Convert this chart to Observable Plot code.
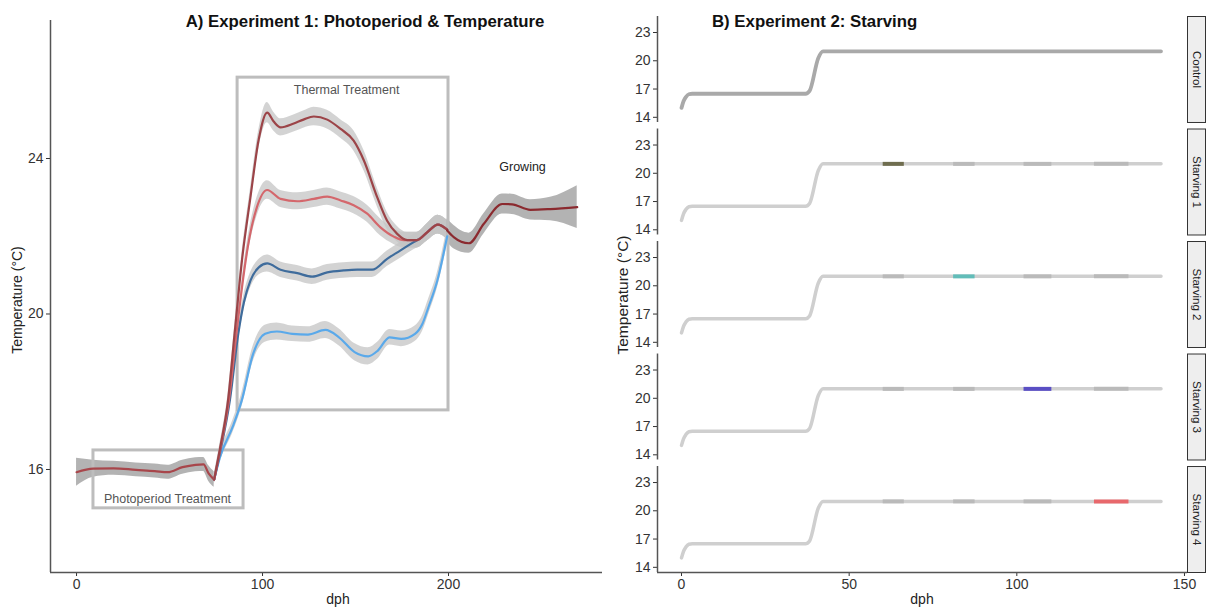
<!DOCTYPE html>
<html>
<head>
<meta charset="utf-8">
<script src="https://cdn.jsdelivr.net/npm/d3@7"></script>
<script src="https://cdn.jsdelivr.net/npm/@observablehq/plot@0.6"></script>
<style>
  body { margin: 0; background: #fff; }
  #wrap { position: relative; width: 1208px; height: 608px; font-family: "Liberation Sans", Arial, sans-serif; color: #222; overflow: hidden; }
  .abs { position: absolute; white-space: nowrap; }
  .title { font-weight: bold; font-size: 16.8px; color: #111; }
  .axlab { font-size: 14px; color: #222; }
</style>
</head>
<body>
<div id="wrap">
  <div id="left" class="abs" style="left:0;top:0"></div>
  <div id="right" class="abs" style="left:600px;top:0"></div>
  <div class="abs title" style="left:365px;top:22px;transform:translate(-50%,-50%)">A) Experiment 1: Photoperiod &amp; Temperature</div>
  <div class="abs title" style="left:712px;top:22px;transform:translate(0,-50%)">B) Experiment 2: Starving</div>
  <div class="abs axlab" style="left:17px;top:300px;transform:translate(-50%,-50%) rotate(-90deg)">Temperature (°C)</div>
  <div class="abs axlab" style="left:338px;top:599px;transform:translate(-50%,-50%)">dph</div>
  <div class="abs axlab" style="left:623px;top:295px;font-size:15.5px;transform:translate(-50%,-50%) rotate(-90deg)">Temperature (°C)</div>
  <div class="abs axlab" style="left:922px;top:599px;transform:translate(-50%,-50%)">dph</div>
</div>
<script>
// ---------------- Experiment 1 data ----------------
const dphPhoto  = [0, 9, 20, 32, 42, 49, 57, 64, 68.3, 71, 74];
const tempPhoto = [15.93, 16.02, 16.03, 15.99, 15.96, 15.93, 16.06, 16.12, 16.13, 15.9, 15.74];
const sePhoto   = [0.36, 0.22, 0.18, 0.18, 0.18, 0.18, 0.18, 0.18, 0.18, 0.2, 0.2];

const dphHigh  = [74, 77, 81.5, 85, 89, 93.5, 98, 102.5, 106, 109.7, 116.8, 122, 127.6, 134.8, 142, 149, 154.5, 161.7, 167, 172.4, 177.8, 183, 188.5, 194.3, 199.3];
const tempHigh = [15.74, 16.5, 17.8, 19.5, 21.4, 23.0, 24.5, 25.18, 24.95, 24.8, 24.9, 25.0, 25.08, 25.0, 24.76, 24.46, 23.95, 23.0, 22.4, 22.06, 21.9, 21.9, 22.1, 22.3, 22.17];
const seHigh   = [0.12, 0.14, 0.16, 0.18, 0.2, 0.22, 0.24, 0.26, 0.24, 0.22, 0.22, 0.22, 0.24, 0.24, 0.24, 0.26, 0.26, 0.24, 0.22, 0.2, 0.2, 0.2, 0.22, 0.24, 0.24];

const dphMid  = [74, 77, 82, 86, 89, 92, 97, 102.5, 109.7, 118.7, 127.6, 134.8, 142, 149, 156.3, 163.4, 170.6, 176, 183, 188.5, 194.3, 199.3];
const tempMid = [15.74, 16.45, 17.8, 19.5, 20.7, 21.7, 22.75, 23.19, 22.96, 22.9, 22.96, 23.02, 22.92, 22.8, 22.58, 22.23, 21.99, 21.9, 21.9, 22.1, 22.3, 22.17];
const seMid   = [0.12, 0.14, 0.16, 0.18, 0.2, 0.22, 0.24, 0.24, 0.22, 0.22, 0.22, 0.22, 0.22, 0.22, 0.22, 0.22, 0.2, 0.2, 0.2, 0.22, 0.24, 0.24];

const dphLow  = [74, 77, 82.5, 87, 90, 93.5, 98, 102.5, 109.7, 118.7, 126.7, 134.8, 143.7, 150.9, 159, 167, 174, 181.3, 185, 188.5, 194.3, 199.3];
const tempLow = [15.74, 16.4, 17.8, 19.5, 20.3, 20.86, 21.2, 21.3, 21.14, 21.05, 20.96, 21.07, 21.12, 21.14, 21.14, 21.42, 21.63, 21.85, 21.95, 22.1, 22.3, 22.17];
const seLow   = [0.12, 0.14, 0.16, 0.18, 0.2, 0.2, 0.2, 0.22, 0.2, 0.2, 0.2, 0.2, 0.2, 0.2, 0.2, 0.2, 0.2, 0.2, 0.2, 0.22, 0.24, 0.24];

const dphLowest  = [74, 77, 84, 88.8, 95, 101.4, 107.7, 116, 124.4, 133.8, 141.1, 149.5, 156.8, 162, 168.3, 174.6, 182, 186, 189.2, 194, 199.3];
const tempLowest = [15.74, 16.3, 17.1, 17.77, 18.98, 19.49, 19.55, 19.49, 19.47, 19.59, 19.4, 19.02, 18.91, 19.06, 19.4, 19.36, 19.49, 19.75, 20.17, 20.86, 22.0];
const seLowest   = [0.12, 0.14, 0.16, 0.18, 0.2, 0.22, 0.22, 0.2, 0.2, 0.22, 0.22, 0.22, 0.22, 0.22, 0.2, 0.2, 0.2, 0.2, 0.2, 0.2, 0.22];

const dphGrow  = [199.3, 202.8, 211, 219, 228.9, 234.2, 244, 254.8, 269.2];
const tempGrow = [22.15, 21.98, 21.82, 22.32, 22.83, 22.82, 22.68, 22.7, 22.75];
const seGrow   = [0.3, 0.3, 0.26, 0.26, 0.26, 0.26, 0.26, 0.3, 0.55];

// annotation boxes (dph, °C) and labels
const boxNames = ["Thermal Treatment", "Photoperiod Treatment"];
const boxX1 = [86.6, 9.1];
const boxX2 = [200, 89.8];
const boxY1 = [17.52, 15.0];
const boxY2 = [26.08, 16.49];
const boxLabelX = [145.2, 48.9];
const boxLabelY = [25.77, 15.23];
const growLabel = "Growing";
const growLabelX = 239.8;
const growLabelY = 23.79;

const xTicksA = [0, 100, 200];
const yTicksA = [16, 20, 24];
const xDomainA = [-14, 282.8];
const yDomainA = [13.35, 27.55];

// ---------------- Experiment 2 data ----------------
const facetNames = ["Control", "Starving 1", "Starving 2", "Starving 3", "Starving 4"];
const dphProfile  = [0, 0.6, 1.3, 2.2, 3.2, 37, 38.2, 40.8, 42.2, 143];
const tempProfile = [15.0, 15.7, 16.15, 16.45, 16.5, 16.5, 16.8, 20.3, 21.0, 21.0];
const weekStart = [60, 81, 102, 123];
const weekEnd   = [66.3, 87.4, 110.3, 133.3];
const plateauTemp = 21.0;
const starveColors = ["#6f6d4f", "#62bdb9", "#5a4fc4", "#e8686c"];
const xTicksB = [0, 50, 100, 150];
const yTicksB = [14, 17, 20, 23];
const xDomainB = [-7.16, 150.9];
const yDomainB = [13.45, 24.7];

// ---------------- build tables ----------------
function series(dph, temp, se) {
  return dph.map((d, i) => ({dph: d, t: temp[i], lo: temp[i] - se[i], hi: temp[i] + se[i]}));
}
const photo = series(dphPhoto, tempPhoto, sePhoto);
const high = series(dphHigh, tempHigh, seHigh);
const mid = series(dphMid, tempMid, seMid);
const low = series(dphLow, tempLow, seLow);
const lowest = series(dphLowest, tempLowest, seLowest);
const grow = series(dphGrow, tempGrow, seGrow);
const boxes = boxNames.map((n, i) => ({name: n, x1: boxX1[i], x2: boxX2[i], y1: boxY1[i], y2: boxY2[i], lx: boxLabelX[i], ly: boxLabelY[i]}));

const curve = "monotone-x";
const ribbon = (data, fill, op) => Plot.areaY(data, {x: "dph", y1: "lo", y2: "hi", fill, fillOpacity: op, curve});
const line = (data, stroke, w = 2.2) => Plot.line(data, {x: "dph", y: "t", stroke, strokeWidth: w, curve});

const chartA = Plot.plot({
  width: 606, height: 608,
  marginLeft: 50, marginRight: 4, marginTop: 20, marginBottom: 36,
  style: {fontFamily: "Liberation Sans, Arial, sans-serif", fontSize: "14px", color: "#333", background: "transparent"},
  x: {domain: xDomainA, ticks: xTicksA, tickSize: 4, tickPadding: 3, label: null},
  y: {domain: yDomainA, ticks: yTicksA, tickSize: 4, tickPadding: 3, label: null},
  marks: [
    ribbon(photo, "#9a9a9a", 0.75),
    ribbon(lowest, "#c4c4c4", 0.75),
    ribbon(low, "#c4c4c4", 0.75),
    ribbon(mid, "#c4c4c4", 0.75),
    ribbon(high, "#c4c4c4", 0.75),
    ribbon(grow, "#999999", 0.75),
    Plot.rect(boxes, {x1: "x1", x2: "x2", y1: "y1", y2: "y2", fill: "none", stroke: "#bdbdbd", strokeWidth: 3}),
    line(photo, "#a8464b"),
    line(lowest, "#5aa9ea"),
    line(low, "#3f6c9c"),
    line(mid, "#d4676c"),
    line(high, "#9c4448"),
    line(grow, "#8b2a2f"),
    Plot.text(boxes, {x: "lx", y: "ly", text: "name", fill: "#555", fontSize: 12.5}),
    Plot.text([growLabel], {x: () => growLabelX, y: () => growLabelY, text: d => d, fill: "#222", fontSize: 12.5}),
    Plot.ruleX([xDomainA[0]], {stroke: "#555", strokeWidth: 1.5}),
    Plot.ruleY([yDomainA[0]], {stroke: "#555", strokeWidth: 1.5})
  ]
});
document.getElementById("left").appendChild(chartA);

// right panel rows
const profileRows = facetNames.flatMap(f => dphProfile.map((d, i) => ({grp: f, dph: d, t: tempProfile[i]})));
const weekRows = facetNames.slice(1).flatMap((f, k) => weekStart.map((s, i) => ({
  grp: f, x1: s, x2: weekEnd[i], y: plateauTemp,
  color: i === k ? starveColors[k] : "#bababa"
})));
const bottomRule = [{grp: facetNames[facetNames.length - 1], v: yDomainB[0]}];

const chartB = Plot.plot({
  width: 608, height: 608,
  marginLeft: 57, marginRight: 21, marginTop: 16, marginBottom: 36,
  style: {fontFamily: "Liberation Sans, Arial, sans-serif", fontSize: "14px", color: "#333", background: "transparent"},
  x: {domain: xDomainB, ticks: xTicksB, tickSize: 4, tickPadding: 3, label: null},
  y: {domain: yDomainB, ticks: yTicksB, tickSize: 4, tickPadding: 3, label: null},
  fy: {domain: facetNames, paddingInner: 0.058, paddingOuter: 0, round: false, axis: null, label: null},
  marks: [
    Plot.frame({fill: "#eeeeee", stroke: "#333", strokeWidth: 1, insetLeft: 530, insetRight: -18}),
    Plot.text(facetNames, {fy: d => d, text: d => d, frameAnchor: "right", textAnchor: "middle", dx: 9, rotate: 90, fontSize: 11.5, fill: "#222"}),
    Plot.line(profileRows, {x: "dph", y: "t", fy: "grp", z: "grp", curve,
      stroke: d => d.grp === "Control" ? "#a9a9a9" : "#cfcfcf",
      strokeWidth: d => d.grp === "Control" ? 3.8 : 3.5}),
    Plot.link(weekRows, {x1: "x1", x2: "x2", y1: "y", y2: "y", fy: "grp", stroke: "color", strokeWidth: 4}),
    Plot.ruleX([xDomainB[0]], {stroke: "#555", strokeWidth: 1.5}),
    Plot.ruleY(bottomRule, {y: "v", fy: "grp", stroke: "#555", strokeWidth: 1.5})
  ]
});
document.getElementById("right").appendChild(chartB);
</script>
</body>
</html>
